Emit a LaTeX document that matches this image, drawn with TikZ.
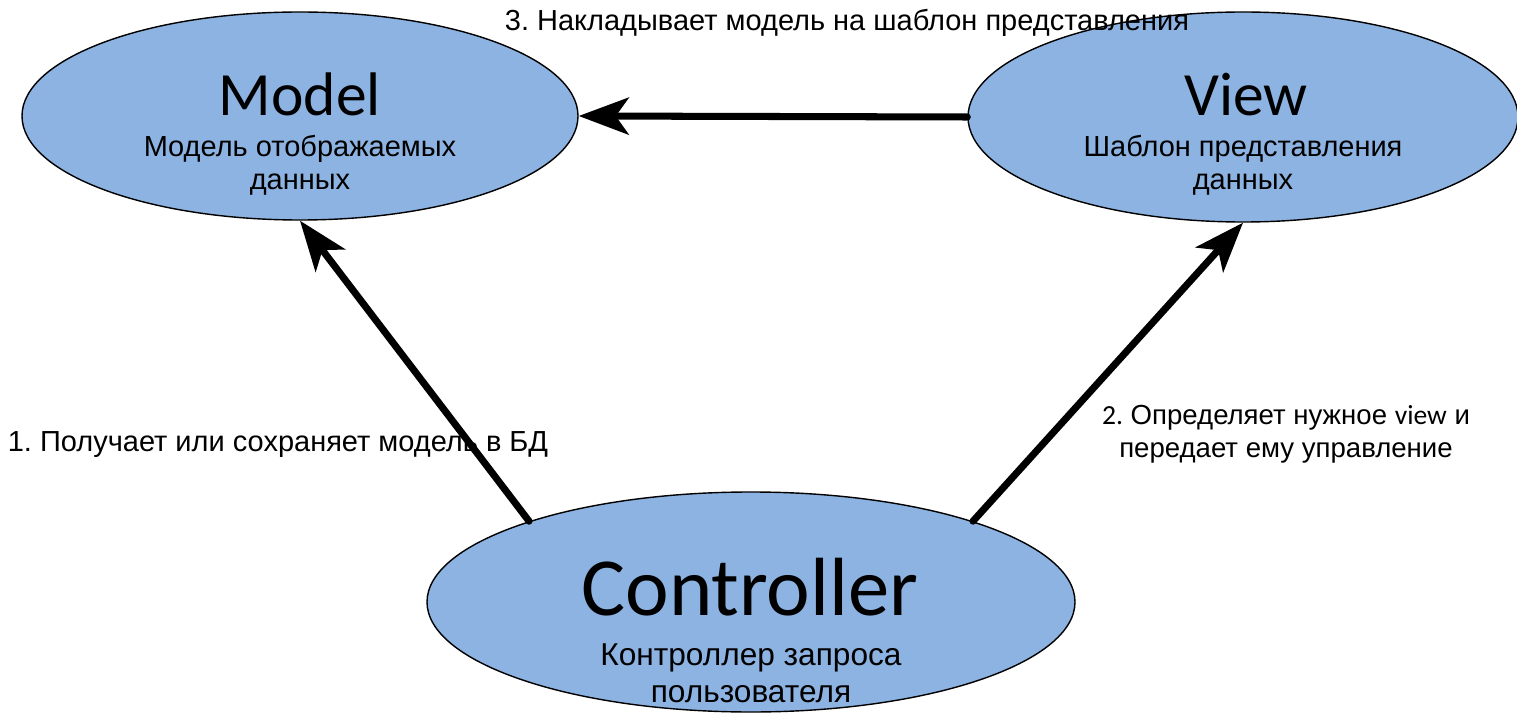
\documentclass[tikz,border=0pt]{standalone}
\usepackage{fontspec}
\setmainfont{Liberation Sans}
\newfontfamily\calfont{Carlito}
\frenchspacing
\usepackage{tikz}
\usetikzlibrary{arrows.meta}
\usetikzlibrary{shapes,positioning}
\definecolor{mvcblue}{RGB}{141,179,226}
\tikzset{>={Stealth[length=1cm,width=0.74cm,inset=0.26cm]},
  part/.style={ellipse,draw=black,line width=0.8pt,fill=mvcblue,inner sep=0pt},
  flow/.style={->,line width=4pt},
  title/.style={font=\calfont\fontsize{35}{40}\selectfont,anchor=base,inner sep=0pt},
  bigtitle/.style={title,font=\calfont\fontsize{47}{52}\selectfont},
  sub/.style={font=\fontsize{16.5}{19}\selectfont,align=center,anchor=base,inner sep=0pt},
  note/.style={font=\fontsize{16.5}{19}\selectfont,align=center,anchor=base,inner sep=0pt}}

\begin{document}
\begin{tikzpicture}[line cap=round]

  \useasboundingbox (0,0) rectangle (30.34,14.28);

  \node [part, minimum width=11.12cm, minimum height=4.16cm] (model) at (6.00,11.96) {};
  \node [part, minimum width=11.0cm, minimum height=4.2cm] (view) at (24.86,11.94) {};
  \node [part, minimum width=12.96cm, minimum height=4.4cm] (ctrl) at (15.02,2.24) {};

  \node [title] (modelT) at (6.0,11.96) {Model};
  \node [sub] (modelS) at (6.0,10.48) {Модель отображаемых\\данных};

  \node [title] (viewT) at (24.92,11.96) {View};
  \node [sub] (viewS) at (24.86,10.48) {Шаблон представления\\данных};

  \node [bigtitle] (ctrlT) at (15.0,1.98) {Controller};
  \node [sub, font=\fontsize{18}{21}\selectfont] (ctrlS) at (15.02,0.24) {Контроллер запроса\\пользователя};

  \node [note] (step3) at (16.94,13.66) {3. Накладывает модель на шаблон представления};
  \node [note] (step1) at (5.56,5.26) {1. Получает или сохраняет модель в БД};
  \node [note, font=\fontsize{15.7}{18.5}\selectfont] (step2) at (25.72,5.14) {{\calfont 2.} Определяет нужное {\calfont view} и\\передает ему управление};

  \draw [flow] (view.west) -- (model.east);
  \draw [flow] (ctrl.160) -- (model.south);
  \draw [flow] (ctrl.20) -- (view.south);

\end{tikzpicture}
\end{document}
